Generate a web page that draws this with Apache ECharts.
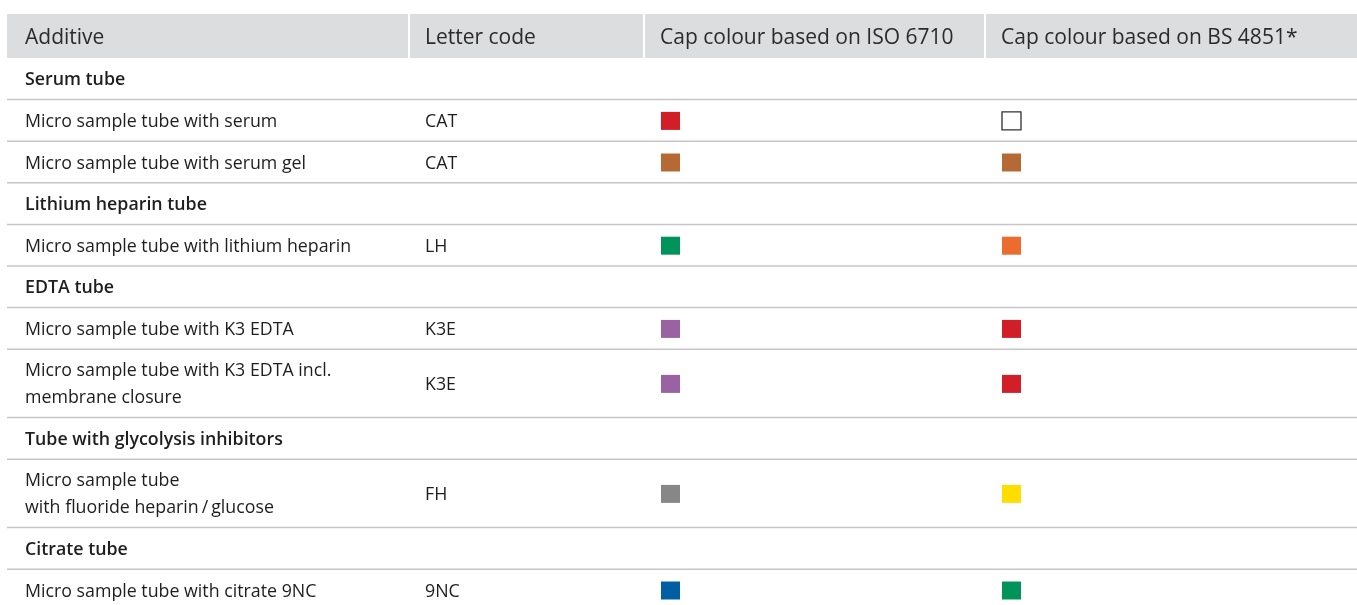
<!DOCTYPE html>
<html><head><meta charset="utf-8">
<script src="https://cdn.jsdelivr.net/npm/echarts@6/dist/echarts.min.js"></script>
<style>html,body{margin:0;padding:0;background:#fff}#c{width:1357px;height:605px}</style>
</head><body><div id="c"></div>
<script>
// ---- data ----
const headers = ['Additive', 'Letter code', 'Cap colour based on ISO 6710', 'Cap colour based on BS 4851*'];
const groups = ['Serum tube', 'Lithium heparin tube', 'EDTA tube', 'Tube with glycolysis inhibitors', 'Citrate tube'];
const additives = [
  'Micro sample tube with serum',
  'Micro sample tube with serum gel',
  'Micro sample tube with lithium heparin',
  'Micro sample tube with K3 EDTA',
  'Micro sample tube with K3 EDTA incl.\nmembrane closure',
  'Micro sample tube\nwith fluoride heparin\u2009/\u2009glucose',
  'Micro sample tube with citrate 9NC'
];
const groupOf = [0, 0, 1, 2, 2, 3, 4];
const letterCodes = ['CAT', 'CAT', 'LH', 'K3E', 'K3E', 'FH', '9NC'];
const isoColours = ['#d21f27', '#b56a35', '#00945a', '#9a62a2', '#9a62a2', '#878787', '#005ea2'];
const bsColours = ['#ffffff', '#b56a35', '#ec6b2f', '#d21f27', '#d21f27', '#ffdd00', '#00945a'];

// ---- layout (pixel-like units on the hidden axes) ----
const FONT = '"Open Sans", "DejaVu Sans", sans-serif';
const BODY = 17.8, HEAD = 21;
const colStart = [7, 410, 645, 986];
const colEnd = [410, 645, 986, 1357];
const textPad = [18, 15, 15, 15];
const headTop = 14, headBottom = 58;
const rowBase = 41.6, lineStep = 26.8;

const rows = [];
groups.forEach((g, gi) => {
  rows.push({ kind: 'group', text: g, lines: 1 });
  additives.forEach((a, i) => {
    if (groupOf[i] === gi) rows.push({ kind: 'item', i: i, text: a, lines: a.split('\n').length });
  });
});
let yCur = headBottom;
rows.forEach(r => { r.top = yCur; r.bottom = yCur + rowBase + (r.lines - 1) * lineStep; r.mid = (r.top + r.bottom) / 2; yCur = r.bottom; });

const rowData = rows.map((r, k) => [k, r.top, r.bottom]);
const isoPts = [], bsPts = [];
rows.forEach(r => {
  if (r.kind !== 'item') return;
  isoPts.push({ value: [colStart[2] + textPad[2] + 10.5, r.mid + 0.5], itemStyle: { color: isoColours[r.i], opacity: 1 } });
  const white = bsColours[r.i].toLowerCase() === '#ffffff';
  bsPts.push({ value: [colStart[3] + textPad[3] + 10.5, r.mid + 0.5], itemStyle: { color: bsColours[r.i], opacity: 1, borderColor: white ? '#333' : bsColours[r.i], borderWidth: white ? 1.3 : 0 } });
});

const chart = echarts.init(document.getElementById('c'), null, { renderer: 'canvas' });
chart.setOption({
  animation: false,
  grid: { left: 0, right: 0, top: 0, bottom: 0 },
  xAxis: { type: 'value', min: 0, max: 1357, show: false },
  yAxis: { type: 'value', min: 0, max: 605, inverse: true, show: false },
  series: [
    {
      type: 'custom', silent: true,
      data: headers.map((h, c) => [c]),
      renderItem: function (params, api) {
        const c = api.value(0);
        const p0 = api.coord([colStart[c], headTop]);
        const p1 = api.coord([colEnd[c], headBottom]);
        const gap = c < 3 ? 2 : 0;
        return {
          type: 'group', children: [
            { type: 'rect', shape: { x: p0[0], y: p0[1], width: p1[0] - p0[0] - gap, height: p1[1] - p0[1] }, style: { fill: '#dcdddf' } },
            { type: 'text', style: { text: headers[c], x: p0[0] + textPad[c], y: (p0[1] + p1[1]) / 2 + 2.5, verticalAlign: 'middle', align: 'left', fill: '#2b2b2b', fontSize: HEAD, fontFamily: FONT } }
          ]
        };
      }
    },
    {
      type: 'custom', silent: true,
      data: rowData,
      renderItem: function (params, api) {
        const r = rows[api.value(0)];
        const pTop = api.coord([colStart[0], r.top]);
        const pBot = api.coord([colEnd[3], r.bottom]);
        const mid = (pTop[1] + pBot[1]) / 2 + 1.5;
        const children = [
          { type: 'line', shape: { x1: pTop[0], y1: pBot[1], x2: pBot[0], y2: pBot[1] }, style: { stroke: '#c6c6c6', lineWidth: 1.5 } }
        ];
        if (r.kind === 'group') {
          children.push({ type: 'text', style: { text: r.text, x: pTop[0] + textPad[0], y: mid, verticalAlign: 'middle', fill: '#1e1e1e', fontSize: BODY, fontWeight: 600, fontFamily: FONT } });
        } else {
          children.push({ type: 'text', style: { text: r.text, x: pTop[0] + textPad[0], y: mid, verticalAlign: 'middle', fill: '#1e1e1e', fontSize: BODY, lineHeight: 27, fontFamily: FONT } });
          const cx = api.coord([colStart[1] + textPad[1], r.mid]);
          children.push({ type: 'text', style: { text: letterCodes[r.i], x: cx[0], y: mid, verticalAlign: 'middle', fill: '#1e1e1e', fontSize: BODY, fontFamily: FONT } });
        }
        return { type: 'group', children: children };
      }
    },
    { type: 'scatter', silent: true, symbol: 'rect', symbolSize: [19, 18], data: isoPts },
    { type: 'scatter', silent: true, symbol: 'rect', symbolSize: [19, 18], data: bsPts }
  ]
});
</script></body></html>
